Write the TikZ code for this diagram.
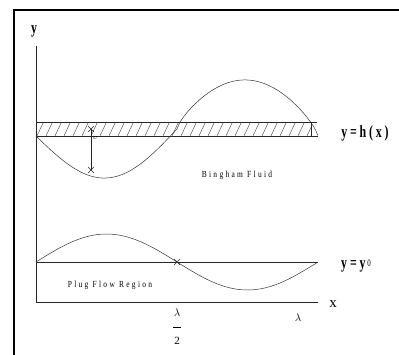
\documentclass[tikz,border=0pt]{standalone}
\usepackage{fontspec}
\usetikzlibrary{calc}
\setmainfont{Liberation Serif}
\newfontfamily\labfont[FakeStretch=0.7]{Liberation Serif}
\newfontfamily\smallfont[LetterSpace=25,FakeStretch=0.8]{Liberation Serif}
\begin{document}
\begin{tikzpicture}[x=1pt,y=-1pt,
  thin line/.style={line width=0.6pt,black!85},
  crossmark/.style={line width=0.5pt,black!85},
  biglabel/.style={inner sep=0pt,font=\labfont\bfseries\fontsize{17}{17}\selectfont},
  smalllabel/.style={inner sep=0pt,font=\smallfont\fontsize{9.3}{10}\selectfont},
  greeklabel/.style={inner sep=0pt,font=\fontsize{11}{11}\selectfont}]
\useasboundingbox (0,0) rectangle (399,354);
% frame
\draw[line width=2pt] (14,356) -- (14,10) -- (401,10);
% axes
\draw[thin line] (36,46) -- (36,302) -- (318,302);
% hatched band
\begin{scope}
  \clip (36,122) rectangle (311,136);
  \foreach \h in {28,37,...,320} {
    \draw[line width=0.4pt,black!75] (\h,136) -- (\h+6.5,122);
  }
\end{scope}
\draw[thin line] (36,122) -- (317,122);
\draw[thin line] (36,136) -- (318,136);
\draw[thin line] (311,122) -- (311,136);
% upper wavy boundary
\draw[line width=0.5pt,black!80] plot[domain=0:1,samples=50,variable=\t]
  ({36+141*\t},{136-7*\t+45.5*sin(180*\t)});
\draw[line width=0.5pt,black!80] plot[domain=0:1,samples=60,variable=\t]
  ({177+141*\t},{129+7*\t-52.5*(sin(180*\t))^0.75});
% thickness arrow with cross marks
\coordinate (ta) at (91,129);
\coordinate (tb) at (91,170);
\draw[thin line] (ta) -- (tb);
\draw[crossmark] ($(ta)+(-3,-3)$) -- ($(ta)+(3,3)$) ($(ta)+(-3,3)$) -- ($(ta)+(3,-3)$);
\draw[crossmark] ($(tb)+(-3,-3)$) -- ($(tb)+(3,3)$) ($(tb)+(-3,3)$) -- ($(tb)+(3,-3)$);
\node[inner sep=0pt,font=\fontsize{7}{7}\selectfont] (nu) at (95,138) {$\upsilon$};
% lower line y = y0 and wave
\draw[thin line] (36,262) -- (318,262);
\draw[line width=0.5pt,black!80] plot[domain=0:1,samples=80,variable=\t]
  ({36+282*\t},{262-28*sin(360*\t)});
\coordinate (cm) at (177,262);
\draw[crossmark] ($(cm)+(-3,-3)$) -- ($(cm)+(3,3)$) ($(cm)+(-3,3)$) -- ($(cm)+(3,-3)$);
% labels
\node[biglabel] (ylab) at (34,31) {y};
\node[biglabel] (hlab) at (365,133) {y\,=\,h\,(\,x\,)};
\node[biglabel] (y0lab) at (356,266) {y\,=\,y\raisebox{0.35ex}{\mdseries\fontsize{10}{10}\selectfont\,0}};
\node[inner sep=0pt,font=\fontsize{15}{15}\selectfont] (xlab) at (333,304) {x};
\node[smalllabel] (bing) at (237,175) {Bingham Fluid};
\node[smalllabel] (plug) at (110,285) {Plug Flow Region};
\node[greeklabel] (lamh) at (177,313) {$\lambda$};
\draw[line width=0.6pt] (173,327) -- (181,327);
\node[greeklabel] (two) at (177,341) {2};
\node[greeklabel] (lam) at (298,318) {$\lambda$};
\end{tikzpicture}
\end{document}
